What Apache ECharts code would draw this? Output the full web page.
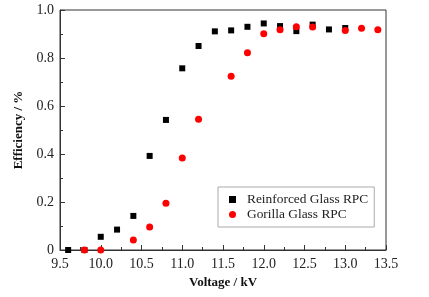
<!DOCTYPE html>
<html><head><meta charset="utf-8">
<script src="https://cdn.jsdelivr.net/npm/echarts@6/dist/echarts.min.js"></script>
<style>html,body{margin:0;padding:0;background:#fff}#c{width:429px;height:297px}</style>
</head><body><div id="c"></div>
<script>
var reinforcedVoltage = [9.6, 9.8, 10.0, 10.2, 10.4, 10.6, 10.8, 11.0, 11.2, 11.4, 11.6, 11.8, 12.0, 12.2, 12.4, 12.6, 12.8, 13.0];
var reinforcedEff = [0, 0, 0.055, 0.085, 0.142, 0.392, 0.542, 0.757, 0.85, 0.911, 0.915, 0.93, 0.944, 0.933, 0.912, 0.939, 0.919, 0.925];
var gorillaVoltage = [9.8, 10.0, 10.4, 10.6, 10.8, 11.0, 11.2, 11.6, 11.8, 12.0, 12.2, 12.4, 12.6, 13.0, 13.2, 13.4];
var gorillaEff = [0, 0, 0.042, 0.096, 0.195, 0.383, 0.545, 0.724, 0.822, 0.901, 0.918, 0.93, 0.929, 0.915, 0.924, 0.918];
var seriesNames = ['Reinforced Glass RPC', 'Gorilla Glass RPC'];
var xTitle = 'Voltage / kV';
var yTitle = 'Efficiency / %';

function pairs(xs, ys) { return xs.map(function (x, i) { return [x, ys[i]]; }); }
var FONT = "'Liberation Serif', 'Times New Roman', serif";
var chart = echarts.init(document.getElementById('c'), null, {renderer: 'canvas'});
chart.setOption({
  animation: false,
  backgroundColor: '#fff',
  grid: {left: 60, right: 43, top: 10, bottom: 47, show: true, borderColor: '#333', borderWidth: 1, backgroundColor: 'transparent'},
  legend: {
    left: 218, top: 187, orient: 'vertical', itemGap: 0,
    itemWidth: 7, itemHeight: 7,
    padding: [5, 6, 5, 11],
    borderColor: '#aaa', borderWidth: 1, borderRadius: 0,
    textStyle: {fontFamily: FONT, fontSize: 13.4, color: '#222', lineHeight: 15, padding: [0, 0, 0, 6]},
    data: [{name: seriesNames[0], icon: 'rect'}, {name: seriesNames[1], icon: 'circle'}]
  },
  xAxis: {
    type: 'value', min: 9.5, max: 13.5, interval: 0.5,
    name: xTitle, nameLocation: 'middle', nameGap: 24,
    nameTextStyle: {fontFamily: FONT, fontSize: 13, fontWeight: 'bold', color: '#111'},
    axisLine: {show: true, lineStyle: {color: '#333', width: 1}},
    axisTick: {show: true, inside: true, length: 5, lineStyle: {color: '#333'}},
    minorTick: {show: true, splitNumber: 2, length: 3, lineStyle: {color: '#333'}},
    splitLine: {show: false},
    axisLabel: {fontFamily: FONT, fontSize: 14, color: '#222', margin: 7, formatter: function (v) { return v.toFixed(1); }}
  },
  yAxis: {
    type: 'value', min: 0, max: 1, interval: 0.2,
    name: yTitle, nameLocation: 'middle', nameGap: 30,
    nameTextStyle: {fontFamily: FONT, fontSize: 13, fontWeight: 'bold', color: '#111'},
    axisLine: {show: true, lineStyle: {color: '#333', width: 1}},
    axisTick: {show: true, inside: true, length: 5, lineStyle: {color: '#333'}},
    minorTick: {show: true, splitNumber: 2, length: 3, lineStyle: {color: '#333'}},
    splitLine: {show: false},
    axisLabel: {fontFamily: FONT, fontSize: 14, color: '#222', margin: 6, formatter: function (v) { return v === 0 ? '0' : v.toFixed(1); }}
  },
  series: [
    {name: seriesNames[0], type: 'scatter', symbol: 'rect', symbolSize: 6, itemStyle: {color: '#000', opacity: 1}, data: pairs(reinforcedVoltage, reinforcedEff), z: 2},
    {name: seriesNames[1], type: 'scatter', symbol: 'circle', symbolSize: 7, itemStyle: {color: '#ff0000', opacity: 1}, data: pairs(gorillaVoltage, gorillaEff), z: 3}
  ]
});
</script></body></html>
